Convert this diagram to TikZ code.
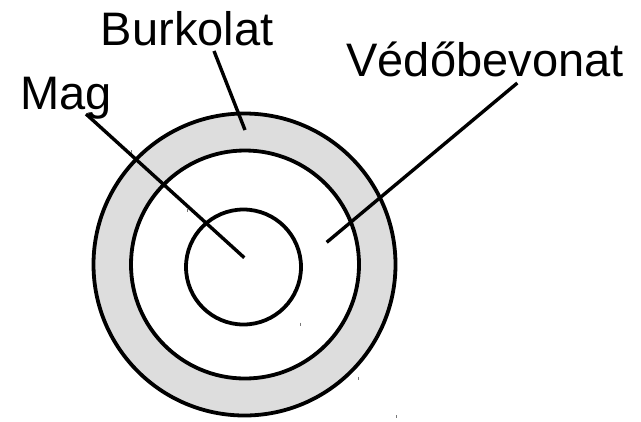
\documentclass[tikz,border=0pt]{standalone}
\usepackage{fontspec}
\setmainfont{Liberation Sans}
\definecolor{ringgray}{RGB}{221,221,221}
\definecolor{tickgray}{RGB}{120,120,120}
\begin{document}
\begin{tikzpicture}[x=1bp,y=-1bp,
  ring/.style={draw=black,line width=3.8bp},
  leader/.style={draw=black,line width=3.4bp},
  label/.style={inner sep=0pt,anchor=base,font=\fontsize{47bp}{50bp}\selectfont},
  tick/.style={draw=tickgray,line width=0.8bp}]
\useasboundingbox (0,0) rectangle (641,421);
% rings
\fill[ringgray] (244.5,264.5) circle[radius=151];
\fill[white] (245,264.5) circle[radius=114];
\path[ring] (244.5,264.5) circle[radius=151];
\path[ring] (245,264.5) circle[radius=114];
\path[ring] (243.5,267) circle[radius=57.5];
% labels
\node[label] (mag) at (66.4,109.3) {Mag};
\node[label] (burk) at (187.2,45) {Burkolat};
\node[label] (vedo) at (485,76.7) {Védőbevonat};
% leader end points
\coordinate (magA) at (86,114);
\coordinate (magB) at (244.3,257.7);
\coordinate (burkA) at (214,51);
\coordinate (burkB) at (245,130);
\coordinate (vedoA) at (517.3,83);
\coordinate (vedoB) at (326.7,242.3);
\draw[leader] (magA) -- (magB);
\draw[leader] (burkA) -- (burkB);
\draw[leader] (vedoA) -- (vedoB);
% small stray marks
\foreach \x/\y in {131.7/151.7,187.3/210.5,300.2/324,358.7/378,396.5/416.7}
  \draw[tick] (\x,\y-1.5) -- (\x,\y+1.5);
\end{tikzpicture}
\end{document}
